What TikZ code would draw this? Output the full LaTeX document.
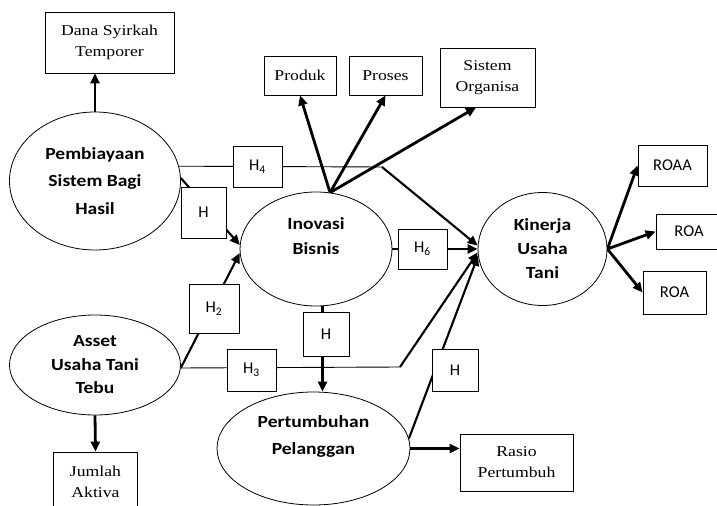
\documentclass[tikz,border=0pt]{standalone}
\usepackage{fontspec}
\setmainfont[FakeStretch=1.18]{Liberation Serif}
\newfontfamily\calb[FakeStretch=1.15]{Carlito}
\newfontfamily\calr{Carlito}
\usetikzlibrary{shapes.geometric,arrows.meta,backgrounds,calc}
\tikzset{
  box/.style={draw, line width=0.8bp, fill=white, inner sep=0pt, align=center,
    font=\fontsize{15bp}{21bp}\selectfont},
  hbox/.style={draw, line width=0.8bp, fill=white, inner sep=0pt,
    font=\calr\fontsize{16.5bp}{19bp}\selectfont},
  oval/.style={ellipse, draw, line width=0.8bp, fill=white, inner sep=0pt, align=center,
    font=\calb\bfseries\fontsize{17bp}{25bp}\selectfont},
  arr/.style={line width=2.8bp, -{Triangle[length=10bp,width=9bp]}},
  arrm/.style={line width=2.1bp, -{Triangle[length=10bp,width=9bp]}},
  ln/.style={line width=0.9bp},
}
\begin{document}
\begin{tikzpicture}[x=1bp,y=-1bp]
\useasboundingbox (0,0) rectangle (717,506);
\clip (0,0) rectangle (717,506);
% nodes
\node[box, minimum width=129bp, minimum height=61bp] (dana) at (109.5,42.5) {Dana Syirkah\\Temporer};
\node[oval, minimum width=171bp, minimum height=138bp,
  font=\calb\bfseries\fontsize{17bp}{27.5bp}\selectfont] (pem) at (95,181) {Pembiayaan\\Sistem Bagi\\Hasil};
\node[box, minimum width=72bp, minimum height=39bp] (produk) at (300,75.5) {Produk};
\node[box, minimum width=73bp, minimum height=39bp] (proses) at (385.5,75.5) {Proses};
\node[box, minimum width=95bp, minimum height=59bp] (sistem) at (487.5,77.5) {Sistem\\Organisa};
\node[oval, minimum width=152bp, minimum height=114bp] (ino) at (316,249) {Inovasi\\Bisnis\\\mbox{}};
\node[oval, minimum width=129bp, minimum height=113bp,
  font=\calb\bfseries\fontsize{17bp}{24bp}\selectfont] (kin) at (542.5,249) {Kinerja\\Usaha\\Tani};
\node[oval, minimum width=171bp, minimum height=100bp,
  font=\calb\bfseries\fontsize{17bp}{23.5bp}\selectfont] (ast) at (95,365) {Asset\\Usaha Tani\\Tebu};
\node[oval, minimum width=193bp, minimum height=113bp,
  font=\calb\bfseries\fontsize{17bp}{27bp}\selectfont] (pert) at (313.5,448.5) {Pertumbuhan\\Pelanggan\\\mbox{}};
\node[box, minimum width=84bp, minimum height=60bp] (jum) at (95.5,482) {Jumlah\\Aktiva};
\node[box, minimum width=113bp, minimum height=57bp] (rasio) at (516.5,462.5) {Rasio\\Pertumbuh};
\node[hbox, minimum width=69bp, minimum height=41bp] (roaa) at (672.5,165.5) {ROAA};
\node[hbox, minimum width=66bp, minimum height=35bp] (roab) at (689,231.5) {ROA};
\node[hbox, minimum width=63bp, minimum height=43bp] (roac) at (674.5,292.5) {ROA};
\node[hbox, minimum width=49bp, minimum height=41bp] (hfour) at (257.5,166.5) {H\textsubscript{4}};
\node[hbox, minimum width=45bp, minimum height=51bp] (hone) at (203.5,212.5) {H};
\node[hbox, minimum width=50bp, minimum height=49bp] (htwo) at (214,308.5) {H\textsubscript{2}};
\node[hbox, minimum width=49bp, minimum height=42bp] (hthree) at (251.5,370) {H\textsubscript{3}};
\node[hbox, minimum width=49bp, minimum height=40bp] (hsix) at (422.5,249) {H\textsubscript{6}};
\node[hbox, minimum width=46bp, minimum height=44bp] (hfive) at (326,334) {H};
\node[hbox, minimum width=46bp, minimum height=42bp] (hseven) at (455,370) {H};
\coordinate (hfourc) at (382,167);
\coordinate (hthreec) at (400,367);
% connectors
\begin{scope}[on background layer]
\fill[white] (0,0) rectangle (717,506);
\draw[arr] (pem.north) -- (pem.north |- dana.south);
\draw[ln] (pem.10) -- (hfourc);
\draw[arrm] (hfourc) -- (kin.177);
\draw[arrm] (pem.2) -- (ino.177);
\draw[arr] (ino.76) -- (produk.south);
\draw[arr] (ino.76) -- (proses.south);
\draw[arr] (ino.76) -- (sistem.249);
\draw[arr] (ino.east) -- (kin.west);
\draw[arrm] (ast.358) -- (ino.183);
\draw[ln] (ast.358) -- (hthreec);
\draw[arrm] (hthreec) -- (kin.183);
\draw[arr] ([xshift=-3.5bp]hfive.north |- ino.south) -- ([xshift=-3.5bp]hfive.south |- pert.north);
\draw[arrm] (pert.6) -- (kin.186);
\draw[arr] (pert.east) -- (pert.east -| rasio.west);
\draw[arr] (ast.south) -- (jum.north);
\draw[arr] (kin.east) -- (roaa.west);
\draw[arr] (kin.east) -- (roab.west);
\draw[arr] (kin.east) -- (roac.west);
\end{scope}
\end{tikzpicture}
\end{document}
